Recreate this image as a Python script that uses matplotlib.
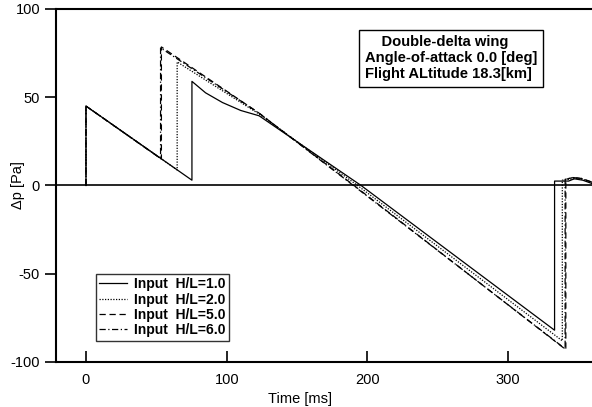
import matplotlib.pyplot as plt

plt.rcParams['font.family'] = ['Liberation Sans', 'DejaVu Sans']
plt.rcParams['axes.unicode_minus'] = False

# Pressure signatures, vertices (time [ms], dp [Pa])
t_h10 = [0, 0, 75.3, 75.3, 85, 97, 110, 123, 195.5, 333, 333, 343, 347, 353, 360]
p_h10 = [0, 45, 3, 59, 52.5, 47, 42.5, 39.5, 0, -82, 2.5, 2.5, 3.8, 3, 1]

t_h20 = [0, 0, 64.8, 64.8, 123, 193, 338.5, 338.5, 344, 350, 360]
p_h20 = [0, 45, 8.8, 70, 40.5, 0, -88, 3, 3.5, 4.2, 1.5]

t_h50 = [0, 0, 53.6, 53.6, 123, 190.5, 341, 341, 346, 352, 361]
p_h50 = [0, 45, 15, 78.5, 41, 0, -93, 3.5, 4.5, 4, 1.5]

t_h60 = [0, 0, 53.0, 53.0, 123, 190, 340.5, 340.5, 346, 352, 361]
p_h60 = [0, 45, 15.3, 78, 41, 0, -92.5, 3.5, 4.5, 4, 1.5]

labels = ["Input  H/L=1.0", "Input  H/L=2.0", "Input  H/L=5.0", "Input  H/L=6.0"]
info_lines = ["    Double-delta wing",
              "Angle-of-attack 0.0 [deg]",
              "Flight ALtitude 18.3[km]"]

figure = plt.figure(figsize=(5.92, 4.07), dpi=100)
axis = figure.add_axes([0.0946, 0.1106, 0.9054, 0.8673])

axis.axhline(0, color="black", lw=1.2, zorder=1)
axis.plot(t_h10, p_h10, color="black", lw=0.9, ls="-", label=labels[0])
axis.plot(t_h20, p_h20, color="black", lw=0.9, ls=(0, (1, 1.2)), label=labels[1])
axis.plot(t_h50, p_h50, color="black", lw=0.9, ls=(0, (5, 3)), label=labels[2])
axis.plot(t_h60, p_h60, color="black", lw=0.9, ls=(0, (5, 2, 1, 2)), label=labels[3])

axis.set_xlim(-21.3, 359.6)
axis.set_ylim(-100, 100)
axis.set_xticks([0, 100, 200, 300])
axis.set_yticks([-100, -50, 0, 50, 100])
axis.tick_params(axis="x", direction="in", length=8, width=1.2, labelsize=10.5, pad=8)
axis.tick_params(axis="y", direction="out", length=8, width=1.2, labelsize=10.5)
for side in ["left", "bottom", "top"]:
    axis.spines[side].set_linewidth(1.5)
axis.spines["right"].set_visible(False)

axis.set_xlabel("Time [ms]", fontsize=10.5)
axis.xaxis.set_label_coords(0.455, -0.085)
axis.set_ylabel("\u0394p [Pa]", fontsize=10.5)
axis.yaxis.set_label_coords(-0.058, 0.5)

axis.text(0.576, 0.925, "\n".join(info_lines), transform=axis.transAxes,
          ha="left", va="top", fontsize=10.6, fontweight="bold", linespacing=1.15,
          bbox=dict(boxstyle="square,pad=0.4", facecolor="white",
                    edgecolor="black", lw=1.0))

legend = axis.legend(loc="lower left", bbox_to_anchor=(0.0746, 0.06),
                     borderaxespad=0, frameon=True, fancybox=False,
                     handlelength=2.0, borderpad=0.25, labelspacing=0.1,
                     handletextpad=0.5,
                     prop={"weight": "bold", "size": 10})
legend.get_frame().set_edgecolor("black")
legend.get_frame().set_linewidth(1.0)

figure.savefig("out.png", dpi=100)
